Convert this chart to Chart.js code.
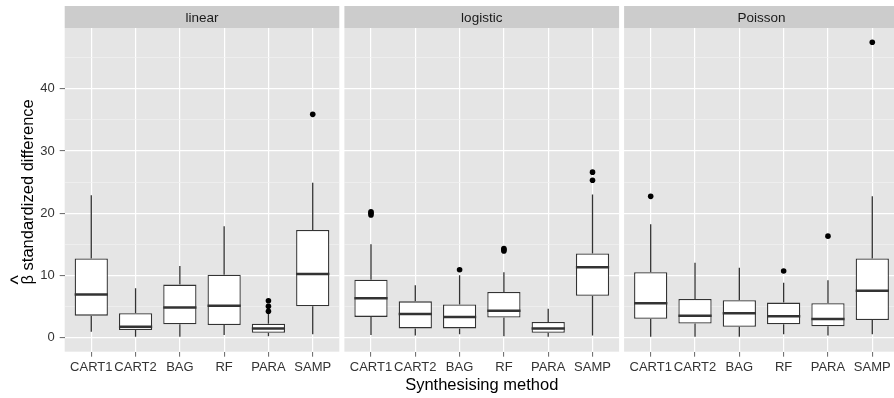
<!DOCTYPE html>
<html>
<head>
<meta charset="utf-8">
<script src="https://cdn.jsdelivr.net/npm/chart.js@4"></script>
<style>
html,body{margin:0;padding:0;background:#fff;width:894px;height:398px;overflow:hidden}
.p{position:absolute;top:0;height:398px}
</style>
</head>
<body>
<div class="p" style="left:0;width:341px"><canvas id="c0"></canvas></div>
<div class="p" style="left:341px;width:280px"><canvas id="c1"></canvas></div>
<div class="p" style="left:621px;width:273px"><canvas id="c2"></canvas></div>
<script>
// ---------- data ----------
const categories = ['CART1', 'CART2', 'BAG', 'RF', 'PARA', 'SAMP'];
const panelNames = ['linear', 'logistic', 'Poisson'];
const yMajorTicks = [0, 10, 20, 30, 40];
const yMinorTicks = [5, 15, 25, 35, 45];
const yTitleText = 'β standardized difference';
const yTitleHat = '^';
const xTitleText = 'Synthesising method';

const linearLower   = [0.9, 0.1, 0.1, 0.4, 0.2, 0.5];
const linearQ1      = [3.5, 1.2, 2.1, 2.0, 0.75, 5.0];
const linearMedian  = [6.9, 1.7, 4.8, 5.1, 1.45, 10.2];
const linearQ3      = [12.7, 3.9, 8.5, 10.1, 2.2, 17.3];
const linearUpper   = [22.9, 7.9, 11.5, 17.9, 3.9, 24.9];
const linearOutliers = [[], [], [], [], [4.2, 5.0, 5.9], [35.9]];

const logisticLower   = [0.4, 0.3, 0.5, 0.2, 0.1, 0.3];
const logisticQ1      = [3.3, 1.45, 1.45, 3.2, 0.75, 6.7];
const logisticMedian  = [6.3, 3.75, 3.3, 4.3, 1.45, 11.3];
const logisticQ3      = [9.3, 5.8, 5.3, 7.3, 2.5, 13.5];
const logisticUpper   = [15.0, 8.4, 10.0, 10.5, 4.6, 23.0];
const logisticOutliers = [[19.7, 20.0, 20.2], [], [10.9], [13.9, 14.1, 14.3], [], [25.3, 26.6]];

const poissonLower   = [0.1, 0.1, 0.1, 0.5, 0.3, 0.5];
const poissonQ1      = [3.0, 2.25, 1.7, 2.1, 1.8, 2.8];
const poissonMedian  = [5.5, 3.5, 3.9, 3.4, 2.95, 7.5];
const poissonQ3      = [10.5, 6.2, 6.0, 5.6, 5.5, 12.7];
const poissonUpper   = [18.2, 12.0, 11.2, 8.8, 9.2, 22.7];
const poissonOutliers = [[22.7], [], [], [10.7], [16.3], [47.5]];

// ---------- layout / style ----------
const Y_MIN = -2.3, Y_MAX = 49.8;
const X_MIN = 0.4;
const xMaxByPanel = [6.6, 6.6, 6.49];
const paddingByPanel = [
  {left: 0, right: 1.7, top: 28, bottom: 0},
  {left: 3.4, right: 1.9, top: 28, bottom: 0},
  {left: 3.1, right: 0, top: 28, bottom: 0}
];
const BOX_WIDTH = 0.75;
const FONT = '"Liberation Sans", Arial, Helvetica, sans-serif';
Chart.defaults.font.family = FONT;

const panels = [
  {lower: linearLower, q1: linearQ1, median: linearMedian, q3: linearQ3, upper: linearUpper, outliers: linearOutliers},
  {lower: logisticLower, q1: logisticQ1, median: logisticMedian, q3: logisticQ3, upper: logisticUpper, outliers: logisticOutliers},
  {lower: poissonLower, q1: poissonQ1, median: poissonMedian, q3: poissonQ3, upper: poissonUpper, outliers: poissonOutliers}
];

const facetPlugin = {
  id: 'facet',
  beforeDraw(chart, args, opts) {
    const {ctx, chartArea: a} = chart;
    const xs = chart.scales.x;
    ctx.save();
    ctx.fillStyle = '#E5E5E5';
    ctx.fillRect(a.left, a.top, a.right - a.left, a.bottom - a.top);
    const stripTop = a.top - 22;
    ctx.fillStyle = '#CCCCCC';
    ctx.fillRect(a.left, stripTop, a.right - a.left, a.top - stripTop);
    ctx.fillStyle = '#1A1A1A';
    ctx.font = '13.5px ' + FONT;
    ctx.textAlign = 'center';
    ctx.textBaseline = 'alphabetic';
    const cx = xs.getPixelForValue((1 + categories.length) / 2);
    ctx.fillText(opts.text, cx, a.top - 6);
    ctx.restore();
  },
  afterDraw(chart, args, opts) {
    if (!opts.yTitle) return;
    const {ctx, chartArea: a} = chart;
    ctx.save();
    ctx.font = '16.5px ' + FONT;
    ctx.fillStyle = '#000000';
    ctx.translate(33.3, (a.top + a.bottom) / 2 + 2);
    ctx.rotate(-Math.PI / 2);
    ctx.textAlign = 'center';
    ctx.textBaseline = 'alphabetic';
    ctx.fillText(yTitleText, 0, 0);
    const w = ctx.measureText(yTitleText).width;
    const bw = ctx.measureText(yTitleText.charAt(0)).width;
    ctx.font = '20px ' + FONT;
    ctx.fillText(yTitleHat, -w / 2 + bw / 2, -8.5);
    ctx.restore();
  }
};

const isMajor = v => yMajorTicks.includes(v);

function makeDatasets(p) {
  const boxes = [], whiskers = [], medians = [], outl = [];
  categories.forEach((c, k) => {
    const x = k + 1;
    boxes.push({x: x, y: [p.q1[k], p.q3[k]]});
    whiskers.push({x: x, y: p.lower[k]}, {x: x, y: p.q1[k]}, {x: x, y: null},
                  {x: x, y: p.q3[k]}, {x: x, y: p.upper[k]}, {x: x, y: null});
    medians.push({x: x - BOX_WIDTH / 2, y: p.median[k]}, {x: x + BOX_WIDTH / 2, y: p.median[k]},
                 {x: x + BOX_WIDTH / 2, y: null});
    p.outliers[k].forEach(v => outl.push({x: x, y: v}));
  });
  return [
    {type: 'line', data: whiskers, borderColor: '#333333', borderWidth: 1.3, pointRadius: 0, spanGaps: false, order: 4},
    {type: 'bar', data: boxes, backgroundColor: '#FFFFFF', borderColor: '#333333', borderWidth: 1.3,
     borderSkipped: false, barPercentage: BOX_WIDTH, categoryPercentage: 1, order: 3},
    {type: 'line', data: medians, borderColor: '#333333', borderWidth: 2.5, pointRadius: 0, spanGaps: false, order: 2},
    {type: 'line', data: outl, showLine: false, pointRadius: 2.8, pointHoverRadius: 2.8, pointBackgroundColor: '#000000',
     pointBorderWidth: 0, pointBorderColor: '#000000', order: 1}
  ];
}

function makeChart(i) {
  const showY = i === 0;
  new Chart(document.getElementById('c' + i), {
    type: 'line',
    data: {datasets: makeDatasets(panels[i])},
    plugins: [facetPlugin],
    options: {
      responsive: true,
      maintainAspectRatio: false,
      animation: false,
      events: [],
      layout: {padding: paddingByPanel[i], autoPadding: false},
      plugins: {legend: {display: false}, tooltip: {enabled: false},
                facet: {text: panelNames[i], yTitle: showY}},
      scales: {
        x: {
          type: 'linear', min: X_MIN, max: xMaxByPanel[i], offset: false,
          afterBuildTicks: s => { s.ticks = categories.map((c, k) => ({value: k + 1})); },
          afterFit: s => { s.height = 46.3; s.paddingLeft = 0; s.paddingRight = 0; },
          grid: {offset: false, color: '#FFFFFF', lineWidth: 1.2, drawTicks: true, tickLength: 5,
                 tickColor: '#666666', tickWidth: 1},
          border: {display: false},
          ticks: {autoSkip: false, maxRotation: 0, minRotation: 0, padding: 3, color: '#333333',
                  font: {size: 13}, callback: v => categories[Math.round(v) - 1]},
          title: i === 1
            ? {display: true, text: xTitleText, color: '#000000', font: {size: 16.5},
               padding: {top: 0, bottom: 3}}
            : {display: false}
        },
        y: {
          type: 'linear', min: Y_MIN, max: Y_MAX,
          afterBuildTicks: s => {
            s.ticks = yMajorTicks.concat(yMinorTicks).sort((a, b) => a - b).map(v => ({value: v}));
          },
          afterFit: s => { s.width = showY ? 64.7 : 0; s.paddingTop = 0; s.paddingBottom = 0; },
          grid: {
            color: c => isMajor(c.tick.value) ? '#FFFFFF' : '#F2F2F2',
            lineWidth: c => isMajor(c.tick.value) ? 1.2 : 0.7,
            drawTicks: showY, tickLength: 5,
            tickColor: c => isMajor(c.tick.value) ? '#666666' : 'rgba(0,0,0,0)',
            tickWidth: 1
          },
          border: {display: false},
          ticks: {display: showY, padding: 5, color: '#333333', font: {size: 13},
                  callback: v => isMajor(v) ? String(v) : ''},
          title: {display: false}
        }
      }
    }
  });
}

[0, 1, 2].forEach(makeChart);
</script>
</body>
</html>
